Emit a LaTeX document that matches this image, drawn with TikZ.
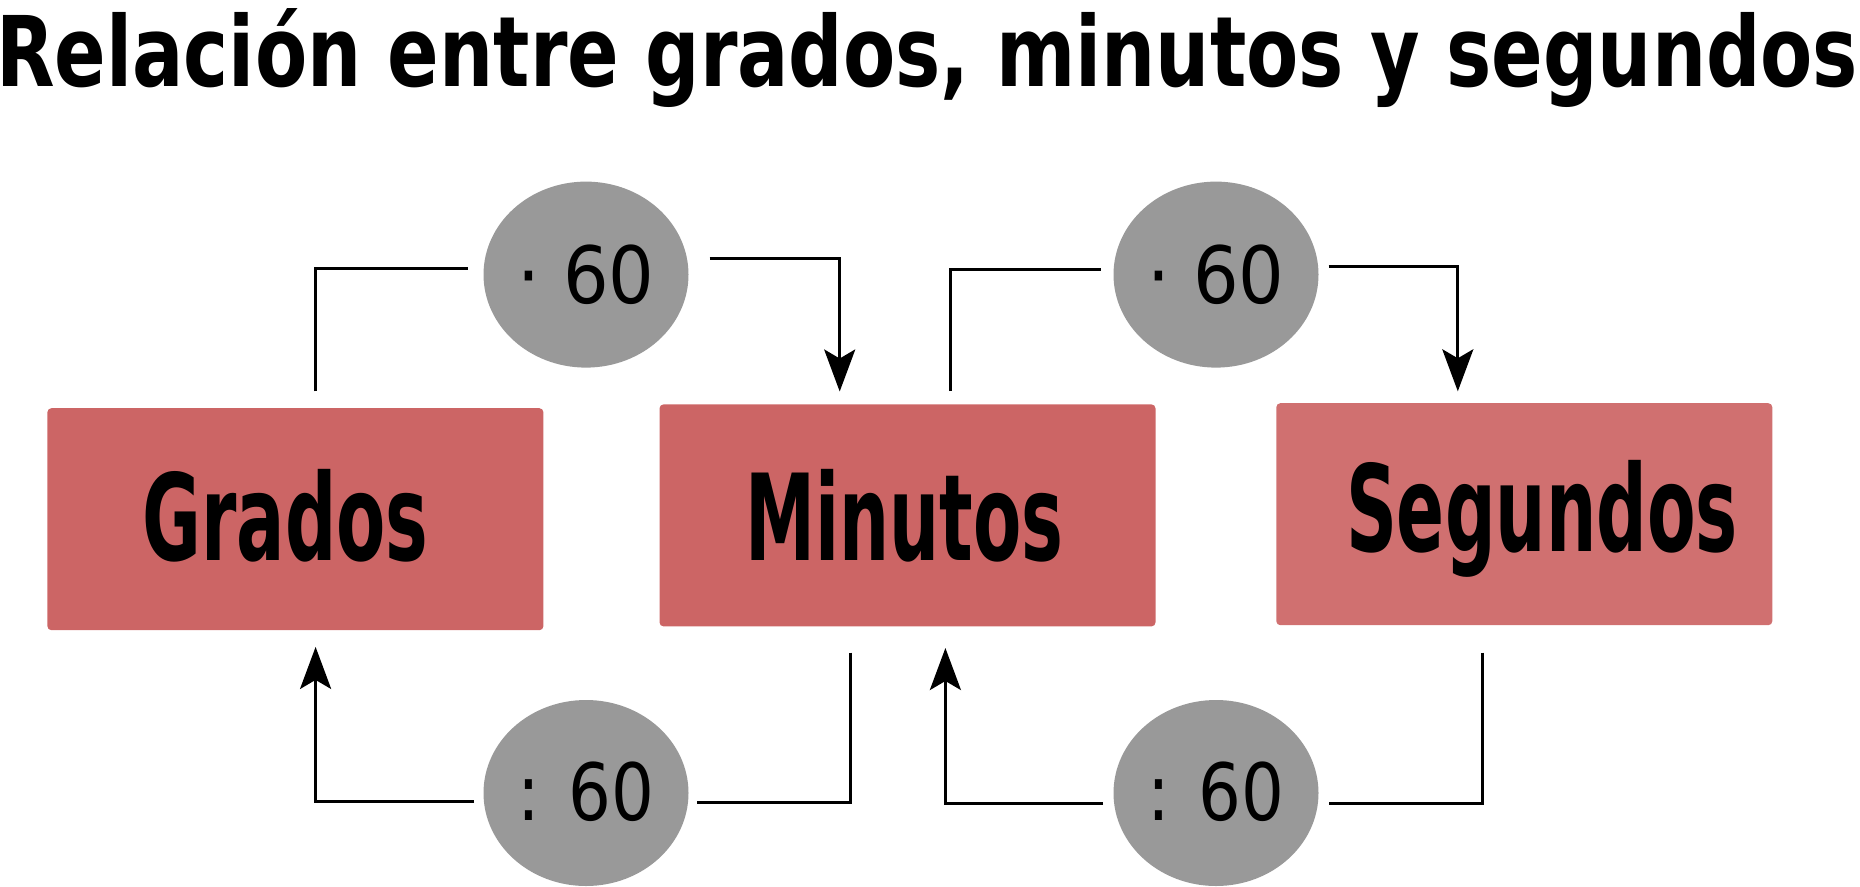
\documentclass[tikz,border=0pt]{standalone}
\usepackage{fontspec}
\setmainfont{DejaVu Sans}
\usepackage{graphicx}
\usetikzlibrary{arrows.meta,shapes.geometric}
\definecolor{boxred}{RGB}{204,101,101}
\definecolor{boxlight}{RGB}{208,112,112}
\definecolor{ovalgray}{RGB}{153,153,153}
\tikzset{
  box/.style={rectangle, rounded corners=4pt, minimum width=496pt, minimum height=222pt, inner sep=0pt, fill=boxred},
  oval/.style={ellipse, fill=ovalgray, minimum width=205pt, minimum height=186pt, inner sep=0pt},
  conn/.style={line width=3pt, black},
  arr/.style={conn, -{Stealth[length=42pt,width=31pt,inset=9pt]}},
  lbl/.style={inner sep=0pt, anchor=base}
}
\newcommand{\boxlabel}[2]{\resizebox{#1}{\height}{\fontsize{120}{120}\selectfont\bfseries #2}}
\newcommand{\ovallabel}[1]{\resizebox{137pt}{\height}{\fontsize{79}{79}\selectfont #1}}
\begin{document}
\begin{tikzpicture}[x=1pt,y=-1pt]
\useasboundingbox (0,0) rectangle (1860,886);
% title
\node[inner sep=0pt, anchor=base west] (title) at (-4,86)
  {\resizebox{1862pt}{\height}{\fontsize{97.5}{97.5}\selectfont\bfseries Relación entre grados, minutos y segundos}};
% boxes
\node[box] (g) at (295.4,519.2) {};
\node[box] (m) at (907.5,515.4) {};
\node[box, fill=boxlight] (s) at (1524.3,514.2) {};
\node[lbl] (gt) at (285.5,560) {\boxlabel{286pt}{Grados}};
\node[lbl] (mt) at (904.5,560) {\boxlabel{318pt}{Minutos}};
\node[lbl] (st) at (1542,551.6) {\boxlabel{392pt}{Segundos}};
% ovals
\node[oval] (e1) at (586,274.6) {\ovallabel{· 60}};
\node[oval] (e2) at (1216,274.6) {\ovallabel{· 60}};
\node[oval] (e3) at (586,793) {\raisebox{4pt}{\ovallabel{: 60}}};
\node[oval] (e4) at (1216,793) {\raisebox{4pt}{\ovallabel{: 60}}};
% connectors top
\draw[conn] ([xshift=20.1pt,yshift=16.6pt]g.north) |- ([xshift=-15.5pt,yshift=6pt]e1.west);
\draw[arr] ([xshift=20.8pt,yshift=15.8pt]e1.east) -| ([xshift=-67.8pt,yshift=12.7pt]m.north);
\draw[conn] ([xshift=42.6pt,yshift=13.1pt]m.north) |- ([xshift=-12.7pt,yshift=5.3pt]e2.west);
\draw[arr] ([xshift=10pt,yshift=7.7pt]e2.east) -| ([xshift=-66.5pt,yshift=11.7pt]s.north);
% connectors bottom
\draw[conn] ([xshift=-57pt,yshift=-26.1pt]m.south) |- ([xshift=7.9pt,yshift=-9pt]e3.east);
\draw[arr] ([xshift=-9.1pt,yshift=-8.5pt]e3.west) -| ([xshift=20.2pt,yshift=-16.5pt]g.south);
\draw[conn] ([xshift=-41.5pt,yshift=-27.1pt]s.south) |- ([xshift=10pt,yshift=-10pt]e4.east);
\draw[arr] ([xshift=-10.3pt,yshift=-10pt]e4.west) -| ([xshift=37.9pt,yshift=-21.4pt]m.south);
\end{tikzpicture}
\end{document}
